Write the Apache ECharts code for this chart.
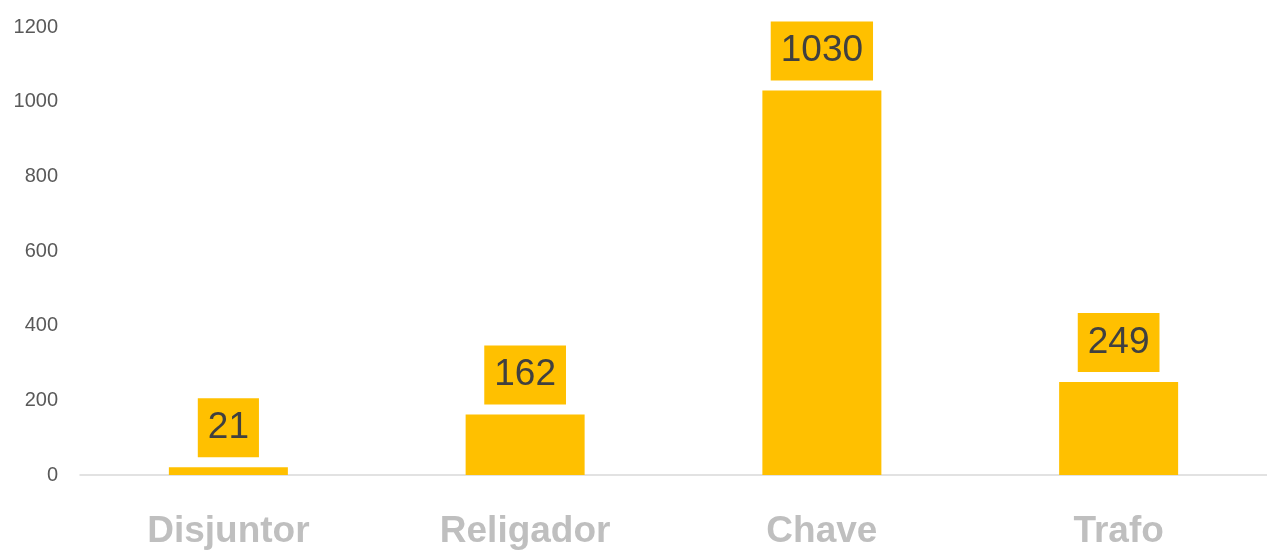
<!DOCTYPE html>
<html>
<head>
<meta charset="utf-8">
<script src="https://cdn.jsdelivr.net/npm/echarts@6/dist/echarts.min.js"></script>
<style>html,body{margin:0;padding:0;background:#fff}#c{width:1267px;height:552px}</style>
</head>
<body>
<div id="c"></div>
<script>
const categories = ["Disjuntor", "Religador", "Chave", "Trafo"];
const values = [21, 162, 1030, 249];
const yTicks = [0, 200, 400, 600, 800, 1000, 1200];

const chart = echarts.init(document.getElementById('c'), null, {renderer: 'canvas'});
chart.setOption({
  animation: false,
  backgroundColor: '#ffffff',
  grid: {left: 80, right: 0, top: 27, bottom: 75, containLabel: false},
  xAxis: {
    type: 'category',
    data: categories,
    axisLine: {show: true, lineStyle: {color: '#D9D9D9', width: 1.5}},
    axisTick: {show: false},
    axisLabel: {
      color: '#BFBFBF', fontFamily: 'Liberation Sans', fontWeight: 'bold',
      fontSize: 37, lineHeight: 40, margin: 37
    }
  },
  yAxis: {
    type: 'value',
    min: yTicks[0], max: yTicks[yTicks.length - 1], interval: 200,
    axisLine: {show: false},
    axisTick: {show: false},
    splitLine: {show: false},
    axisLabel: {color: '#595959', fontFamily: 'Liberation Sans', fontSize: 20, margin: 22,
      formatter: function (v) { return String(v); }}
  },
  series: [{
    type: 'bar',
    data: values,
    barWidth: 119,
    itemStyle: {color: '#FFC000'},
    label: {
      show: true, position: 'top', distance: 10,
      color: '#404040', fontFamily: 'Liberation Sans', fontSize: 37, lineHeight: 41,
      backgroundColor: '#FFC000', padding: [9, 10, 9, 10]
    }
  }]
});
</script>
</body>
</html>
